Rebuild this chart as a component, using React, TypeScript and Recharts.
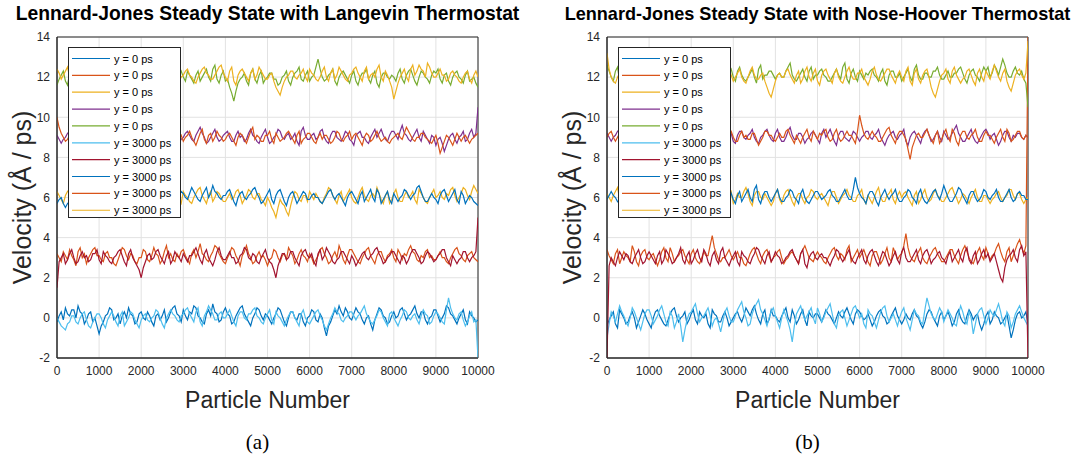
import React from 'react';
import { LineChart, Line, XAxis, YAxis, CartesianGrid, Legend, ReferenceArea, Label } from 'recharts';

const FONT = '"Liberation Sans", Arial, Helvetica, sans-serif';
const SERIF = '"Liberation Serif", "Times New Roman", serif';
const TEXT = '#262626';

const PARTICLE_STEP = 50;
const X_TICKS = [0, 1000, 2000, 3000, 4000, 5000, 6000, 7000, 8000, 9000, 10000];
const Y_TICKS = [-2, 0, 2, 4, 6, 8, 10, 12, 14];
const SERIES_NAMES = ['y = 0 ps', 'y = 0 ps', 'y = 0 ps', 'y = 0 ps', 'y = 0 ps',
  'y = 3000 ps', 'y = 3000 ps', 'y = 3000 ps', 'y = 3000 ps', 'y = 3000 ps'];
const SERIES_COLORS = ['#0072BD', '#D95319', '#EDB120', '#7E2F8E', '#77AC30',
  '#4DBEEE', '#A2142F', '#0072BD', '#D95319', '#EDB120'];

// ---------- (a) Langevin thermostat ----------
const LA_Y0_BLUE = [
  -0.2, 0.1, 0.3, -0.1, 0.5, 0.2, 0.1, 0.4, 0.4, 0.0, 0.6, 0.3, 0.2, -0.3, -0.1, 0.2, 0.3, -0.2, 0.0, -0.4,
  -0.8, -0.4, -0.2, 0.1, 0.2, 0.5, 0.4, -0.1, 0.0, 0.2, -0.3, 0.1, 0.3, 0.0, 0.5, 0.2, 0.1, -0.3, -0.2, 0.2,
  0.3, 0.0, -0.1, 0.3, 0.1, -0.2, -0.4, 0.1, 0.2, -0.1, 0.1, 0.4, -0.2, 0.0, 0.3, 0.5, 0.6, 0.2, 0.1, -0.2,
  0.4, 0.1, -0.1, 0.3, 0.2, 0.6, 0.5, 0.1, 0.0, -0.2, -0.3, 0.2, 0.4, 0.1, 0.7, 0.3, 0.2, -0.2, -0.1, 0.3,
  0.5, 0.2, 0.1, -0.3, -0.2, 0.1, 0.3, 0.5, 0.6, 0.2, 0.0, -0.2, -0.4, 0.0, 0.2, 0.5, 0.4, 0.1, -0.1, 0.2,
  0.1, -0.1, -0.3, 0.0, 0.2, 0.5, 0.4, 0.1, -0.2, -0.4, 0.0, 0.3, 0.3, 0.0, -0.1, 0.2, 0.2, -0.2, -0.4, 0.0,
  0.1, 0.4, 0.3, -0.1, -0.2, 0.2, 0.0, -0.5, -0.9, -0.4, -0.2, 0.1, 0.4, 0.2, 0.6, 0.3, 0.1, 0.5, 0.3, 0.0,
  -0.1, 0.2, 0.5, 0.3, 0.2, -0.1, -0.3, 0.0, 0.1, -0.3, -0.6, -0.1, 0.2, 0.5, 0.4, 0.1, 0.0, -0.3, -0.2, 0.1,
  0.3, 0.0, 0.1, 0.4, 0.5, 0.2, -0.1, 0.1, 0.2, 0.4, 0.6, 0.2, 0.0, 0.3, 0.3, -0.1, -0.3, 0.0, 0.1, 0.4,
  0.4, 0.1, -0.2, 0.0, 0.2, 0.6, 0.5, 0.2, 0.1, -0.1, -0.3, 0.0, 0.2, 0.4, -0.1, -0.3, 0.3, 0.1, 0.0, -0.2,
  -0.1,
];
const LA_Y0_ORANGE = [
  3.2, 3.0, 2.8, 3.3, 3.1, 2.9, 3.4, 3.1, 2.9, 2.6, 3.3, 3.5, 3.0, 3.2, 2.7, 3.0, 3.2, 3.4, 3.5, 3.1,
  3.1, 2.9, 2.8, 3.2, 3.3, 3.0, 3.0, 2.7, 2.6, 2.9, 3.2, 3.5, 3.4, 3.1, 2.9, 3.2, 3.1, 2.8, 2.7, 3.0,
  3.0, 3.4, 3.3, 2.9, 2.8, 3.1, 3.5, 3.2, 3.1, 2.7, 2.9, 3.3, 3.6, 3.0, 3.2, 2.9, 2.8, 3.2, 3.0, 3.3,
  3.4, 3.1, 2.9, 2.7, 3.2, 3.4, 3.0, 3.3, 3.7, 3.2, 3.1, 2.9, 2.8, 3.1, 3.3, 3.6, 3.5, 3.2, 3.0, 2.8,
  2.7, 3.0, 3.2, 3.5, 3.4, 3.1, 2.9, 2.6, 3.1, 3.3, 3.6, 3.2, 3.0, 2.7, 2.8, 3.1, 3.3, 3.0, 3.1, 2.9,
  2.6, 2.9, 3.0, 3.4, 3.3, 3.0, 2.8, 3.1, 3.2, 2.9, 3.5, 3.3, 3.1, 2.7, 2.9, 3.2, 3.4, 3.1, 3.0, 2.8,
  3.2, 3.0, 2.7, 2.9, 3.1, 3.4, 3.5, 3.2, 3.0, 2.7, 2.8, 3.1, 3.3, 3.0, 3.6, 3.3, 2.9, 2.7, 3.1, 3.4,
  3.4, 3.2, 3.0, 2.8, 2.7, 3.0, 3.2, 3.4, 3.5, 3.1, 2.9, 2.7, 3.1, 3.3, 3.3, 3.0, 2.8, 3.1, 3.2, 3.4,
  3.0, 2.8, 3.4, 3.2, 2.9, 3.2, 3.1, 3.4, 3.6, 3.3, 3.2, 2.9, 2.8, 3.1, 3.0, 3.3, 3.4, 3.0, 3.1, 2.9,
  2.9, 3.1, 3.3, 3.0, 3.0, 2.8, 2.7, 3.0, 3.2, 3.4, 3.5, 3.2, 3.1, 2.9, 2.8, 3.1, 3.2, 3.3, 3.0, 2.9,
  2.8,
];
const LA_Y0_YELLOW = [
  6.3, 6.1, 5.9, 5.7, 6.1, 6.3, 6.4, 6.0, 5.8, 6.1, 6.2, 5.9, 6.0, 6.3, 5.7, 5.9, 6.3, 6.5, 6.1, 5.8,
  5.8, 6.0, 6.2, 6.5, 6.4, 6.1, 5.9, 6.2, 6.1, 5.8, 5.6, 5.9, 6.0, 6.2, 6.3, 6.0, 5.8, 5.7, 6.2, 6.4,
  6.0, 5.8, 5.7, 6.0, 6.3, 6.2, 6.1, 5.8, 5.9, 6.2, 6.4, 6.1, 6.0, 5.7, 5.8, 6.0, 6.2, 6.4, 5.9, 5.7,
  6.3, 6.1, 6.0, 5.8, 5.7, 6.0, 6.2, 6.4, 6.5, 6.1, 5.9, 5.7, 6.1, 6.3, 5.8, 6.0, 6.3, 6.2, 6.0, 5.8,
  5.8, 6.0, 6.2, 5.9, 6.0, 6.3, 6.4, 6.1, 5.7, 5.9, 6.1, 6.4, 6.3, 6.0, 5.9, 6.2, 6.2, 5.9, 5.8, 5.6,
  6.0, 5.8, 5.5, 5.3, 5.0, 5.5, 5.9, 5.7, 5.6, 5.3, 5.1, 5.6, 6.0, 6.3, 6.2, 5.9, 5.8, 6.1, 6.1, 5.8,
  6.3, 6.1, 5.9, 6.2, 6.0, 5.8, 5.7, 6.0, 6.2, 6.5, 6.4, 6.1, 5.9, 5.7, 6.1, 6.3, 5.8, 6.0, 6.2, 6.4,
  6.0, 5.8, 5.7, 6.0, 6.3, 6.5, 6.1, 5.9, 5.8, 6.1, 6.2, 6.0, 6.5, 6.2, 5.9, 5.7, 6.1, 6.3, 5.7, 5.9,
  6.2, 6.4, 6.0, 5.8, 5.8, 6.1, 6.3, 6.0, 6.1, 6.3, 5.9, 5.7, 6.4, 6.2, 6.0, 5.8, 5.7, 6.0, 6.2, 6.4,
  6.0, 6.1, 6.3, 6.0, 5.9, 6.2, 6.1, 6.4, 6.5, 6.1, 5.8, 6.0, 6.2, 6.5, 6.4, 6.1, 5.9, 6.3, 6.6, 6.4,
  6.2,
];
const LA_Y0_PURPLE = [
  9.1, 8.9, 8.7, 8.9, 9.0, 9.2, 9.3, 9.0, 8.9, 8.7, 9.2, 9.4, 8.8, 8.6, 9.1, 9.3, 9.4, 9.1, 9.0, 8.8,
  8.8, 9.0, 9.2, 9.4, 9.0, 8.8, 8.7, 9.0, 9.3, 9.5, 9.1, 8.9, 8.9, 9.1, 9.2, 9.0, 8.8, 8.6, 9.0, 9.3,
  9.3, 9.1, 8.9, 8.7, 9.1, 9.3, 8.8, 9.0, 9.2, 9.4, 9.0, 8.8, 9.4, 9.2, 8.9, 8.7, 9.1, 9.0, 8.7, 8.9,
  9.0, 9.2, 9.3, 9.1, 8.9, 8.8, 9.1, 9.3, 9.5, 9.2, 9.0, 8.7, 8.8, 9.0, 9.2, 9.4, 9.0, 8.8, 8.9, 9.1,
  9.2, 9.3, 9.0, 8.8, 8.8, 9.1, 9.3, 9.0, 9.1, 8.8, 8.9, 9.2, 9.4, 9.1, 9.0, 8.8, 8.7, 9.0, 9.2, 9.4,
  9.0, 8.7, 8.8, 9.0, 9.1, 9.4, 9.3, 9.0, 8.9, 9.1, 9.2, 8.9, 9.0, 9.2, 8.8, 8.6, 9.3, 9.5, 9.1, 8.9,
  8.9, 9.1, 9.2, 8.9, 9.0, 9.3, 9.4, 9.0, 8.8, 8.7, 9.1, 9.3, 9.3, 9.0, 8.9, 8.8, 9.0, 9.3, 9.2, 8.9,
  8.8, 8.6, 9.1, 9.2, 9.3, 9.0, 9.0, 8.8, 8.7, 9.0, 9.2, 9.4, 9.0, 9.2, 9.4, 9.1, 8.9, 8.8, 9.1, 9.3,
  9.3, 9.1, 8.9, 9.3, 9.6, 9.2, 9.1, 8.9, 8.8, 9.0, 9.2, 9.4, 9.0, 8.8, 9.3, 9.1, 8.9, 8.7, 9.1, 9.0,
  8.6, 8.9, 9.0, 8.7, 8.3, 8.6, 8.9, 9.1, 9.2, 8.9, 8.7, 9.0, 9.1, 9.3, 8.8, 8.9, 9.2, 9.4, 9.0, 9.2,
  10.5,
];
const LA_Y0_GREEN = [
  11.6, 11.9, 12.1, 12.3, 11.8, 11.6, 12.2, 12.4, 11.9, 12.1, 12.3, 12.0, 12.0, 11.7, 11.7, 12.0, 12.2, 12.4, 11.9, 11.7,
  12.1, 12.3, 11.8, 11.6, 12.0, 12.2, 12.3, 12.1, 11.9, 11.7, 12.2, 12.4, 11.7, 11.9, 12.0, 12.3, 12.1, 11.9, 11.8, 12.0,
  12.2, 12.4, 12.0, 11.8, 11.9, 12.1, 12.3, 12.5, 12.1, 11.9, 11.8, 11.6, 12.2, 12.4, 12.0, 11.8, 11.7, 11.9, 12.1, 12.3,
  12.0, 11.8, 12.3, 12.1, 11.9, 11.7, 12.1, 12.3, 11.8, 12.0, 12.2, 12.4, 12.0, 11.8, 12.4, 12.6, 11.9, 11.7, 12.1, 12.3,
  11.8, 11.9, 11.5, 11.2, 10.8, 11.3, 11.7, 11.9, 12.0, 12.2, 11.8, 11.6, 12.2, 12.4, 11.9, 11.7, 12.1, 12.3, 11.7, 11.9,
  12.0, 12.2, 12.2, 11.9, 11.9, 11.6, 11.7, 12.0, 12.1, 12.3, 11.8, 11.6, 12.0, 12.2, 12.3, 12.5, 11.9, 11.8, 12.1, 12.3,
  11.8, 12.0, 12.1, 12.5, 12.9, 12.4, 12.0, 11.8, 11.9, 12.1, 12.2, 12.4, 11.8, 11.6, 12.0, 12.2, 12.3, 12.1, 11.9, 11.7,
  12.1, 12.3, 11.8, 11.6, 12.0, 12.2, 12.2, 12.4, 11.9, 11.7, 12.1, 12.3, 11.7, 11.5, 12.0, 12.2, 12.2, 12.0, 11.9, 12.1,
  12.0, 11.8, 12.2, 12.4, 11.9, 11.7, 12.1, 12.3, 12.4, 12.1, 11.8, 11.6, 12.0, 12.3, 12.2, 12.0, 11.9, 11.7, 12.1, 12.3,
  12.2, 12.4, 11.9, 11.7, 12.1, 12.2, 11.8, 11.6, 12.0, 12.2, 12.3, 12.0, 11.9, 11.7, 12.1, 12.3, 11.8, 11.9, 12.0, 11.7,
  11.5,
];
const LA_Y3000_LIGHTBLUE = [
  0.0, -0.2, -0.4, -0.5, -0.6, -0.3, -0.2, 0.1, 0.1, -0.2, -0.3, 0.0, 0.2, 0.3, -0.1, -0.4, -0.5, -0.2, 0.0, 0.2,
  0.2, 0.0, -0.3, -0.5, -0.1, 0.1, 0.3, 0.1, -0.2, -0.4, 0.1, 0.3, -0.4, -0.2, 0.0, 0.3, 0.2, -0.1, -0.3, -0.5,
  -0.1, 0.1, 0.2, -0.1, -0.2, 0.0, 0.1, 0.4, 0.3, 0.0, -0.3, -0.5, 0.0, 0.2, 0.4, 0.2, 0.1, -0.1, -0.2, 0.1,
  0.2, 0.4, 0.5, 0.2, 0.0, -0.2, 0.3, 0.5, -0.2, -0.4, 0.1, 0.3, 0.6, 0.4, 0.2, -0.1, -0.1, 0.2, 0.3, 0.0,
  0.0, 0.2, 0.4, 0.1, -0.2, -0.4, 0.1, 0.3, 0.3, 0.0, -0.1, 0.2, 0.2, 0.4, 0.5, 0.1, 0.0, -0.2, -0.3, 0.0,
  0.2, 0.4, -0.1, -0.3, 0.3, 0.1, 0.0, -0.2, -0.4, -0.1, 0.1, 0.3, 0.3, 0.0, -0.2, -0.4, 0.2, 0.4, 0.0, -0.2,
  -0.3, -0.1, 0.1, 0.3, 0.4, 0.1, -0.1, -0.4, -0.6, -0.3, 0.0, 0.2, 0.5, 0.3, 0.2, -0.1, -0.2, 0.0, 0.1, 0.3,
  0.3, 0.1, -0.1, 0.1, 0.2, 0.4, 0.6, 0.2, 0.0, -0.2, -0.3, -0.1, 0.1, 0.4, 0.3, 0.0, -0.2, -0.4, 0.2, 0.3,
  0.0, -0.2, -0.4, -0.1, 0.1, 0.4, 0.3, 0.0, -0.1, 0.1, 0.2, -0.1, -0.3, 0.1, 0.4, 0.2, 0.1, -0.3, -0.2, 0.1,
  0.3, 0.2, 0.0, -0.2, -0.3, 0.4, 1.0, 0.5, 0.2, 0.0, -0.1, 0.2, 0.3, -0.1, -0.4, -0.2, 0.1, 0.3, -0.2, -0.1,
  -2.0,
];
const LA_Y3000_DARKRED = [
  1.5, 2.8, 3.0, 3.2, 2.7, 2.9, 3.2, 3.4, 3.0, 2.7, 2.8, 3.1, 3.3, 3.0, 3.1, 2.8, 2.9, 3.2, 3.2, 3.4,
  2.9, 2.7, 3.3, 3.1, 3.0, 2.8, 2.7, 3.0, 3.1, 3.3, 3.4, 3.1, 2.8, 2.6, 3.2, 3.4, 3.0, 2.8, 2.6, 2.4,
  2.0, 2.5, 2.8, 3.1, 3.2, 2.9, 3.0, 3.3, 3.4, 3.1, 2.9, 2.7, 3.1, 3.3, 2.7, 2.9, 3.3, 3.1, 3.0, 2.8,
  3.2, 3.0, 2.8, 3.1, 3.1, 3.3, 3.5, 3.2, 2.9, 2.7, 3.2, 3.4, 3.0, 2.8, 2.6, 2.9, 3.3, 3.5, 3.1, 2.9,
  2.9, 3.1, 3.3, 3.0, 3.0, 2.7, 2.8, 3.1, 3.2, 3.5, 3.4, 3.0, 2.9, 3.2, 3.1, 2.8, 2.7, 3.0, 3.2, 3.4,
  3.0, 2.8, 2.7, 2.4, 2.0, 2.6, 2.9, 3.2, 3.2, 2.9, 3.0, 3.3, 3.3, 3.0, 2.8, 2.6, 3.1, 3.3, 3.4, 3.1,
  3.0, 3.2, 2.8, 2.6, 3.2, 3.4, 2.9, 3.1, 3.5, 3.3, 3.1, 2.8, 2.7, 2.9, 3.0, 3.3, 3.3, 3.1, 2.9, 2.7,
  3.1, 2.9, 2.6, 2.8, 3.0, 3.2, 3.3, 3.0, 2.9, 3.1, 3.2, 3.4, 3.5, 3.2, 3.0, 2.7, 2.8, 3.0, 3.1, 3.3,
  3.3, 3.1, 2.9, 2.7, 3.1, 3.0, 2.7, 2.9, 3.2, 3.4, 3.4, 3.2, 3.0, 2.7, 2.8, 3.1, 3.3, 3.2, 3.0, 2.8,
  2.9, 3.1, 3.2, 3.4, 3.4, 3.0, 2.8, 2.6, 3.1, 2.9, 2.7, 2.9, 3.0, 3.3, 3.3, 3.0, 2.8, 3.0, 3.1, 3.3,
  5.0,
];
const LA_Y3000_BLUE = [
  5.7, 5.9, 6.0, 5.7, 5.5, 5.7, 5.8, 6.1, 6.2, 6.0, 5.9, 5.7, 6.1, 6.3, 5.6, 5.8, 5.9, 6.1, 6.3, 6.0,
  6.0, 5.8, 5.7, 5.9, 6.1, 6.3, 5.8, 5.6, 6.2, 6.4, 6.0, 5.8, 5.6, 5.8, 5.9, 6.2, 6.3, 6.1, 6.0, 5.7,
  5.8, 6.0, 6.1, 6.3, 6.4, 6.1, 5.9, 5.7, 6.2, 6.0, 5.7, 5.9, 6.0, 6.2, 6.3, 6.0, 5.8, 6.0, 6.1, 6.3,
  6.2, 6.0, 5.9, 6.2, 6.5, 6.3, 6.1, 5.9, 5.8, 6.1, 6.3, 6.5, 6.0, 6.2, 6.6, 6.3, 6.2, 6.0, 5.9, 6.1,
  6.1, 6.3, 6.4, 6.1, 5.8, 5.6, 6.0, 6.2, 6.3, 6.0, 5.9, 6.1, 6.2, 6.4, 6.5, 6.2, 6.0, 5.7, 5.8, 6.0,
  6.2, 6.4, 5.9, 5.7, 6.1, 6.3, 6.4, 6.1, 5.8, 5.6, 6.0, 6.2, 6.3, 6.0, 5.7, 5.9, 6.1, 6.3, 6.2, 5.9,
  5.9, 6.1, 6.2, 6.0, 6.0, 5.8, 5.7, 5.9, 6.1, 6.3, 6.4, 6.1, 5.9, 6.1, 6.2, 6.0, 5.8, 5.6, 6.0, 6.2,
  6.3, 6.1, 5.9, 5.7, 6.1, 6.3, 5.8, 6.0, 6.2, 6.4, 6.0, 5.8, 6.4, 6.2, 5.7, 5.9, 6.1, 6.3, 5.9, 5.7,
  6.2, 6.0, 5.8, 6.0, 6.1, 6.4, 6.3, 6.1, 5.9, 6.1, 6.2, 6.5, 6.6, 6.3, 6.0, 5.8, 5.8, 6.0, 6.2, 6.0,
  5.9, 5.7, 6.1, 6.3, 6.4, 6.1, 5.8, 6.0, 6.2, 6.4, 5.9, 5.7, 6.3, 6.1, 5.7, 5.9, 6.1, 6.0, 5.8, 5.7,
  5.6,
];
const LA_Y3000_ORANGE = [
  10.0, 9.5, 9.2, 9.0, 8.8, 8.9, 9.1, 9.3, 8.9, 8.7, 9.3, 9.1, 9.0, 8.8, 8.7, 9.0, 9.2, 9.4, 8.9, 9.1,
  9.1, 8.9, 8.8, 9.0, 9.3, 9.5, 9.0, 8.8, 8.9, 9.1, 9.2, 9.0, 8.7, 8.5, 9.1, 9.3, 9.0, 8.8, 8.8, 9.0,
  9.2, 9.4, 9.0, 8.8, 8.7, 8.9, 9.1, 9.2, 8.9, 8.7, 9.3, 9.1, 8.8, 8.6, 9.0, 9.3, 9.2, 9.0, 8.9, 9.1,
  8.8, 9.0, 9.1, 9.3, 9.0, 8.8, 8.6, 8.9, 9.2, 9.4, 8.9, 8.7, 9.1, 9.2, 8.8, 9.0, 9.3, 9.1, 9.0, 8.8,
  8.9, 9.1, 9.2, 9.0, 8.8, 8.6, 9.0, 9.2, 9.1, 8.9, 8.7, 9.0, 9.3, 9.5, 8.9, 9.1, 9.0, 8.8, 8.8, 9.1,
  9.1, 9.3, 8.9, 8.7, 9.2, 9.0, 8.8, 8.9, 9.0, 9.2, 9.3, 9.1, 8.9, 8.7, 9.1, 9.3, 8.7, 8.9, 9.0, 9.2,
  9.2, 9.0, 8.8, 8.7, 9.0, 9.2, 8.9, 9.1, 9.1, 8.9, 8.7, 8.8, 9.0, 9.3, 9.2, 8.9, 8.8, 9.0, 9.1, 9.3,
  8.9, 9.1, 9.2, 9.0, 8.8, 8.6, 9.0, 9.2, 9.1, 8.8, 8.9, 9.1, 9.3, 9.0, 8.8, 8.9, 9.0, 8.8, 8.7, 8.9,
  9.0, 9.1, 9.2, 9.0, 8.9, 9.2, 9.5, 9.3, 9.1, 8.9, 8.8, 9.0, 9.0, 9.2, 9.2, 9.0, 8.9, 8.8, 8.7, 8.9,
  9.1, 8.7, 8.2, 8.5, 8.8, 9.1, 9.0, 8.8, 8.6, 8.9, 9.2, 9.0, 8.8, 9.0, 9.1, 8.9, 8.7, 8.9, 9.0, 9.1,
  9.2,
];
const LA_Y3000_YELLOW = [
  12.4, 12.2, 11.9, 12.1, 12.3, 12.5, 12.0, 11.8, 12.5, 12.3, 12.1, 11.9, 11.8, 12.0, 12.3, 12.5, 12.0, 11.7, 12.4, 12.6,
  12.2, 12.0, 12.5, 12.3, 12.0, 11.8, 12.3, 12.5, 11.9, 11.7, 12.2, 12.4, 12.6, 12.3, 12.1, 11.9, 11.8, 12.0, 12.2, 12.5,
  12.9, 12.6, 12.3, 12.1, 12.0, 12.2, 12.4, 12.1, 11.9, 11.7, 12.2, 12.4, 12.5, 12.2, 12.0, 11.8, 12.3, 12.5, 11.8, 12.0,
  12.1, 12.3, 12.4, 12.1, 12.0, 11.8, 11.7, 12.0, 12.2, 12.4, 12.5, 12.2, 12.1, 11.9, 11.9, 12.1, 12.3, 12.5, 12.6, 12.2,
  12.0, 11.8, 12.3, 12.5, 11.8, 11.6, 12.1, 12.3, 12.4, 12.2, 12.0, 11.8, 12.2, 12.4, 11.9, 12.1, 12.5, 12.3, 12.1, 11.9,
  11.9, 12.1, 12.2, 11.8, 11.5, 11.3, 11.1, 11.5, 11.8, 12.0, 12.1, 12.3, 12.3, 12.0, 11.9, 12.1, 12.2, 12.4, 12.0, 11.8,
  12.4, 12.2, 12.1, 11.9, 11.8, 12.0, 12.3, 12.5, 12.0, 11.8, 12.2, 12.4, 11.9, 12.1, 12.5, 12.3, 12.1, 11.9, 11.8, 12.1,
  12.2, 12.4, 12.5, 12.2, 12.0, 11.8, 12.3, 12.5, 11.9, 12.1, 12.2, 12.0, 12.4, 12.6, 12.0, 11.8, 12.3, 12.1, 11.8, 11.5,
  10.9, 11.3, 11.7, 12.0, 12.2, 12.4, 12.0, 11.8, 12.4, 12.6, 12.1, 12.3, 12.6, 12.4, 12.3, 12.0, 12.7, 12.5, 12.2, 12.0,
  12.0, 12.2, 12.4, 12.1, 12.1, 11.8, 11.9, 12.2, 12.3, 12.1, 12.0, 11.8, 11.7, 12.0, 12.2, 12.3, 11.9, 11.7, 12.1, 12.3,
  12.0,
];

// ---------- (b) Nose-Hoover thermostat ----------
const NH_Y0_BLUE = [
  -0.4, -0.1, 0.1, 0.3, -0.3, -0.5, 0.4, 0.2, 0.0, -0.3, -0.2, 0.1, 0.3, 0.0, -0.5, -0.2, 0.1, 0.4, 0.2, -0.1,
  -0.3, -0.5, 0.0, 0.3, 0.4, 0.1, -0.1, -0.3, -0.4, -0.1, 0.2, 0.4, 0.5, 0.1, -0.2, 0.0, 0.1, 0.3, -0.3, -0.1,
  0.2, 0.4, -0.1, -0.3, 0.3, 0.1, 0.0, 0.2, -0.3, -0.5, 0.4, 0.2, 0.1, -0.2, -0.2, 0.1, 0.3, 0.0, -0.4, -0.2,
  0.0, 0.2, 0.3, 0.0, -0.2, 0.1, 0.5, 0.3, 0.1, 0.4, 0.6, 0.2, -0.1, -0.3, 0.2, 0.4, -0.3, -0.1, 0.4, 0.1,
  0.1, -0.1, -0.2, 0.1, 0.3, 0.5, 0.0, -0.2, 0.4, 0.1, -0.3, -0.1, 0.2, 0.4, -0.1, -0.4, 0.3, 0.1, 0.0, 0.2,
  0.2, 0.0, -0.2, 0.1, 0.4, 0.2, 0.1, -0.1, -0.3, 0.0, 0.3, 0.1, 0.0, 0.3, 0.5, 0.2, -0.1, -0.3, 0.2, 0.4,
  0.3, 0.1, -0.1, 0.0, 0.2, -0.1, -0.4, -0.2, 0.1, 0.3, 0.4, 0.1, 0.0, -0.3, -0.2, 0.1, 0.3, 0.5, 0.1, -0.1,
  -0.3, -0.1, 0.2, 0.0, -0.1, 0.2, 0.4, 0.1, 0.0, -0.3, -0.5, -0.2, 0.2, 0.4, 0.3, 0.0, -0.2, -0.4, 0.1, 0.3,
  -0.1, 0.1, 0.3, 0.0, -0.4, -0.2, 0.2, 0.4, 0.0, -0.2, -0.3, 0.1, 0.4, 0.2, -0.1, 0.1, 0.2, -0.3, -0.6, -0.3,
  0.1, 0.3, -0.3, -0.1, 0.3, 0.1, 0.0, -0.3, -0.2, 0.0, 0.2, -0.4, -1.0, -0.6, -0.1, 0.2, 0.3, 0.0, 0.1, 0.3,
  -0.3,
];
const NH_Y0_ORANGE = [
  3.4, 3.1, 2.9, 2.7, 3.2, 3.4, 2.7, 3.0, 3.3, 3.1, 3.0, 2.8, 3.6, 3.3, 2.8, 2.6, 3.1, 3.3, 3.4, 3.0,
  2.9, 3.1, 3.2, 2.9, 2.6, 2.9, 3.3, 3.5, 3.0, 2.8, 3.5, 3.2, 2.8, 3.0, 3.1, 3.3, 3.4, 3.1, 2.9, 2.7,
  3.2, 3.4, 3.0, 2.8, 2.7, 3.0, 3.3, 3.1, 3.1, 3.6, 4.1, 3.5, 3.2, 2.9, 2.8, 3.0, 3.0, 3.2, 3.4, 3.1,
  2.9, 3.1, 3.3, 3.0, 3.0, 2.7, 2.6, 2.9, 3.2, 3.4, 3.5, 3.2, 2.9, 2.7, 3.1, 3.3, 3.4, 3.1, 2.8, 3.0,
  3.1, 3.3, 3.4, 3.0, 2.7, 2.9, 3.0, 3.2, 3.3, 3.1, 2.9, 2.7, 3.2, 3.4, 3.6, 3.3, 3.0, 2.9, 2.8, 3.1,
  3.3, 3.1, 3.0, 2.8, 2.7, 3.0, 3.2, 3.4, 3.5, 3.1, 2.9, 3.2, 3.1, 2.9, 3.4, 3.6, 2.8, 3.0, 3.2, 3.4,
  3.0, 3.2, 3.4, 3.1, 2.8, 2.6, 3.1, 3.3, 3.3, 3.0, 2.7, 2.9, 3.2, 3.5, 3.0, 2.8, 3.5, 3.2, 2.9, 3.1,
  3.2, 3.6, 4.2, 3.5, 3.1, 2.9, 2.8, 3.1, 3.3, 3.5, 3.0, 2.8, 2.7, 3.0, 3.2, 3.4, 3.5, 3.2, 3.0, 2.8,
  2.8, 3.0, 3.2, 3.4, 3.4, 3.1, 2.9, 2.7, 3.1, 3.4, 3.6, 3.3, 3.0, 2.8, 2.7, 3.0, 3.3, 3.5, 3.1, 2.9,
  3.5, 3.2, 2.9, 3.1, 3.2, 3.5, 3.7, 3.3, 3.0, 2.8, 3.3, 3.5, 2.8, 3.1, 3.4, 3.7, 3.9, 3.5, 3.2, 3.6,
  14.0,
];
const NH_Y0_YELLOW = [
  6.2, 6.0, 5.8, 6.1, 6.3, 6.5, 5.9, 5.7, 6.1, 5.8, 5.6, 5.9, 6.2, 6.4, 6.0, 5.8, 5.7, 6.0, 6.3, 6.1,
  5.9, 6.1, 6.2, 5.9, 5.8, 6.1, 6.4, 6.2, 6.0, 5.8, 5.7, 5.5, 6.1, 6.3, 6.3, 6.0, 5.8, 5.6, 6.0, 6.2,
  6.3, 6.1, 5.9, 6.2, 6.1, 5.8, 5.6, 5.9, 6.2, 6.4, 6.0, 5.7, 5.8, 6.1, 6.4, 6.2, 5.9, 5.7, 6.1, 6.3,
  5.7, 5.9, 6.2, 6.0, 6.0, 6.3, 6.5, 6.2, 5.8, 5.6, 6.1, 6.3, 6.3, 6.0, 5.9, 6.2, 6.0, 5.8, 5.6, 5.8,
  6.2, 6.4, 5.9, 5.7, 6.1, 6.3, 6.4, 6.1, 5.8, 5.6, 6.0, 6.2, 6.2, 5.9, 5.7, 6.0, 6.1, 6.4, 6.3, 6.0,
  5.9, 6.1, 6.2, 6.0, 5.8, 5.6, 6.0, 6.3, 6.3, 6.0, 5.7, 5.9, 6.1, 6.2, 6.4, 6.1, 6.0, 5.8, 5.8, 6.1,
  6.2, 6.4, 5.9, 5.7, 6.1, 5.9, 5.7, 6.0, 6.3, 6.5, 6.0, 5.8, 5.8, 6.1, 6.2, 6.4, 5.9, 5.7, 6.1, 6.3,
  6.0, 6.2, 6.3, 6.0, 5.8, 5.6, 6.1, 6.3, 5.7, 5.9, 6.2, 6.4, 6.0, 5.8, 5.9, 6.2, 6.4, 6.1, 6.0, 5.8,
  5.8, 6.0, 6.2, 6.4, 6.5, 6.2, 6.0, 5.7, 5.9, 6.2, 6.1, 5.9, 5.7, 6.0, 6.2, 6.4, 6.0, 5.8, 5.8, 6.1,
  6.1, 5.9, 5.7, 5.9, 6.0, 6.2, 6.3, 6.0, 5.8, 6.0, 6.1, 6.4, 6.4, 6.1, 5.9, 6.2, 6.2, 5.9, 5.7, 5.9,
  6.0,
];
const NH_Y0_PURPLE = [
  9.2, 9.0, 8.8, 9.0, 9.1, 9.3, 9.4, 9.1, 8.9, 8.7, 9.2, 9.4, 8.7, 8.9, 9.0, 9.2, 9.3, 9.1, 8.9, 9.1,
  9.1, 9.3, 9.4, 9.0, 8.8, 8.6, 9.0, 9.2, 9.3, 9.1, 8.9, 9.1, 9.2, 8.9, 8.6, 8.8, 9.1, 9.4, 9.3, 9.0,
  8.9, 9.1, 9.2, 8.9, 9.0, 8.7, 8.8, 9.1, 9.3, 9.5, 9.1, 8.9, 8.7, 9.0, 9.2, 9.4, 9.0, 8.8, 9.4, 9.2,
  8.8, 8.7, 9.1, 9.3, 9.3, 9.0, 8.9, 9.1, 9.2, 9.4, 9.0, 8.8, 8.7, 9.0, 9.1, 9.3, 9.4, 9.1, 8.9, 8.8,
  9.2, 9.4, 9.0, 8.8, 8.8, 9.0, 9.3, 9.5, 9.1, 8.9, 8.9, 9.2, 9.2, 9.0, 8.7, 8.9, 9.0, 9.2, 9.3, 9.1,
  8.9, 8.7, 9.2, 9.4, 9.0, 9.2, 9.4, 9.1, 8.8, 8.6, 9.1, 9.3, 9.3, 9.0, 8.9, 8.8, 9.0, 9.3, 9.2, 9.0,
  8.8, 9.0, 9.1, 9.3, 9.3, 9.0, 8.9, 9.1, 9.2, 9.4, 9.0, 8.8, 8.6, 8.9, 9.1, 9.2, 9.3, 9.0, 8.9, 9.1,
  9.2, 9.4, 8.8, 8.6, 9.0, 9.2, 9.3, 9.1, 8.9, 8.7, 9.1, 9.3, 9.4, 9.1, 8.8, 8.9, 9.1, 9.3, 9.0, 8.8,
  9.3, 9.1, 8.9, 9.0, 9.2, 9.4, 9.6, 9.2, 9.0, 8.8, 8.8, 9.0, 9.2, 9.4, 9.0, 8.8, 8.7, 8.9, 9.1, 9.3,
  9.4, 9.2, 8.9, 9.1, 9.2, 8.9, 8.6, 8.8, 9.1, 9.3, 9.3, 9.0, 8.8, 9.1, 9.0, 9.2, 9.2, 9.0, 8.9, 9.1,
  9.0,
];
const NH_Y0_GREEN = [
  12.6, 12.3, 12.0, 11.8, 12.3, 12.5, 11.8, 11.6, 12.2, 12.4, 12.0, 11.8, 11.7, 12.0, 12.1, 12.3, 12.4, 12.1, 11.9, 12.2,
  12.2, 12.4, 12.0, 11.7, 11.8, 12.1, 12.3, 12.5, 12.1, 11.9, 11.9, 12.2, 12.2, 12.4, 12.0, 11.8, 11.8, 12.0, 12.3, 12.5,
  12.1, 12.3, 11.9, 11.7, 12.2, 12.0, 12.4, 12.6, 12.0, 11.8, 11.8, 12.1, 12.1, 12.3, 12.3, 12.0, 11.9, 11.7, 12.2, 12.4,
  12.0, 11.8, 12.3, 12.5, 12.1, 11.9, 11.8, 12.0, 12.2, 12.4, 12.0, 11.7, 12.4, 12.6, 11.9, 12.1, 12.1, 12.3, 12.3, 12.1,
  11.9, 12.1, 12.2, 12.0, 12.0, 12.3, 12.5, 12.7, 12.1, 11.9, 11.8, 12.0, 12.2, 12.4, 12.0, 11.8, 12.3, 12.5, 11.9, 12.1,
  12.1, 12.3, 12.4, 12.1, 12.0, 11.8, 11.8, 12.0, 12.2, 12.4, 12.1, 11.9, 12.5, 12.7, 11.9, 11.7, 12.2, 12.4, 12.0, 11.8,
  12.3, 12.1, 11.9, 12.2, 12.1, 12.3, 12.4, 12.1, 12.0, 11.8, 12.2, 12.4, 11.8, 11.6, 12.1, 12.3, 12.3, 12.0, 12.0, 12.2,
  11.8, 12.0, 12.2, 12.4, 12.0, 11.8, 12.4, 12.6, 12.1, 11.9, 11.9, 12.2, 12.2, 12.0, 12.0, 12.3, 12.3, 12.5, 12.1, 11.9,
  11.9, 12.1, 12.3, 12.0, 12.0, 12.2, 12.2, 12.4, 12.5, 12.2, 11.9, 11.7, 12.1, 12.3, 12.4, 12.1, 12.0, 11.8, 12.2, 12.5,
  12.3, 12.5, 12.0, 12.2, 12.6, 12.4, 12.1, 12.5, 12.9, 12.6, 12.2, 12.0, 12.0, 12.3, 12.5, 12.2, 12.1, 12.3, 11.9, 11.7,
  10.5,
];
const NH_Y3000_LIGHTBLUE = [
  -1.0, -0.3, 0.3, 0.1, -0.2, 0.2, 0.6, 0.3, 0.1, -0.2, -0.4, 0.0, 0.5, 0.3, 0.0, -0.3, -0.6, -0.2, 0.2, 0.4,
  0.4, 0.1, -0.3, -0.1, 0.1, 0.4, 0.6, 0.2, -0.2, -0.4, 0.3, 0.1, -0.5, -0.2, 0.2, -0.4, -1.2, -0.6, -0.1, 0.2,
  0.3, 0.5, 0.7, 0.2, -0.2, 0.0, 0.1, 0.3, 0.5, 0.1, -0.4, -0.1, 0.0, -0.3, -0.7, -0.2, 0.3, 0.5, 0.1, -0.2,
  -0.2, 0.1, 0.4, 0.6, 0.8, 0.3, 0.0, -0.4, -0.3, 0.2, 0.5, 0.7, 0.9, 0.4, 0.2, -0.1, -0.4, 0.0, 0.3, 0.5,
  0.1, -0.2, -0.5, 0.0, 0.4, 0.1, -0.2, -0.6, -1.2, -0.4, 0.2, 0.4, 0.6, 0.2, -0.1, 0.1, 0.3, 0.5, 0.0, -0.3,
  0.5, 0.2, -0.2, 0.0, 0.3, 0.5, 0.7, 0.2, -0.3, -0.5, 0.1, 0.3, 0.4, 0.0, -0.4, -0.1, 0.2, 0.5, 0.6, 0.3,
  0.0, 0.2, -0.3, -0.5, 0.4, 0.2, 0.1, -0.2, -0.5, -0.1, 0.3, 0.5, 0.6, 0.1, -0.2, 0.0, 0.2, -0.1, -0.4, 0.0,
  0.3, 0.5, 0.0, -0.3, -0.6, -0.1, 0.4, 0.2, 0.1, -0.2, -0.3, 0.4, 1.0, 0.6, 0.2, 0.0, -0.1, 0.2, 0.5, 0.3,
  -0.2, 0.1, 0.4, 0.2, 0.0, -0.3, -0.4, 0.2, 0.6, 0.3, -0.1, -0.3, 0.3, 0.0, -0.8, -0.3, 0.2, 0.4, 0.5, 0.1,
  -0.3, 0.0, 0.4, 0.2, 0.1, 0.4, 0.7, 0.3, -0.2, -0.4, 0.3, 0.1, -0.5, -0.2, 0.2, 0.4, 0.6, 0.3, 0.0, -0.2,
  -0.4,
];
const NH_Y3000_DARKRED = [
  -2.0, 2.6, 3.0, 2.8, 2.6, 3.0, 3.3, 3.1, 2.9, 3.2, 3.1, 2.8, 2.7, 3.0, 3.2, 3.4, 3.0, 2.7, 2.8, 3.1,
  3.3, 3.1, 2.9, 2.7, 3.1, 3.3, 2.7, 2.9, 3.4, 3.2, 3.0, 2.7, 2.8, 3.0, 3.2, 3.5, 2.9, 2.7, 3.1, 3.3,
  2.7, 2.9, 3.2, 3.4, 3.0, 2.8, 3.4, 3.2, 2.8, 2.6, 3.1, 3.3, 2.9, 2.7, 3.3, 3.5, 3.0, 2.8, 2.6, 2.9,
  3.1, 3.3, 2.8, 2.6, 3.3, 3.1, 3.0, 2.8, 2.7, 3.0, 3.2, 3.5, 3.4, 3.1, 2.9, 2.7, 3.1, 3.3, 2.8, 3.0,
  3.3, 3.1, 3.0, 2.7, 2.8, 3.0, 3.1, 3.3, 3.4, 3.1, 2.9, 2.7, 3.2, 3.4, 2.7, 2.5, 3.0, 3.2, 3.3, 3.0,
  2.9, 3.1, 3.2, 3.0, 3.0, 2.8, 2.6, 2.9, 3.1, 3.4, 3.3, 3.0, 2.8, 3.0, 3.2, 3.4, 3.0, 2.8, 2.7, 3.0,
  3.2, 3.4, 2.9, 2.7, 3.1, 3.3, 3.4, 3.1, 2.8, 2.6, 3.0, 3.3, 3.2, 2.9, 2.6, 2.8, 3.1, 3.3, 2.9, 2.7,
  3.3, 3.5, 3.0, 2.8, 2.8, 3.0, 3.2, 3.4, 2.9, 2.7, 3.1, 3.3, 3.4, 3.1, 2.7, 2.9, 3.0, 3.2, 3.3, 3.0,
  2.9, 2.7, 3.1, 3.3, 2.8, 3.0, 3.2, 3.4, 3.0, 2.8, 3.3, 3.5, 2.9, 2.7, 3.1, 3.3, 2.7, 2.9, 3.2, 3.4,
  3.0, 3.2, 2.8, 3.0, 3.2, 2.8, 2.4, 2.0, 1.8, 2.5, 2.9, 3.1, 3.2, 3.4, 3.0, 2.8, 3.4, 3.6, 3.1, 3.3,
  -2.0,
];
const NH_Y3000_BLUE = [
  5.9, 6.1, 6.3, 6.1, 6.0, 5.8, 5.7, 5.9, 6.2, 6.5, 6.4, 6.1, 5.9, 5.7, 6.1, 6.3, 5.8, 6.0, 6.2, 6.4,
  6.0, 5.8, 5.6, 5.9, 6.1, 6.4, 6.3, 6.0, 5.9, 6.1, 6.2, 6.0, 5.8, 5.6, 6.0, 6.2, 6.4, 6.1, 5.9, 5.7,
  6.1, 6.3, 5.8, 5.6, 6.2, 6.4, 6.0, 5.8, 5.7, 6.0, 6.3, 6.1, 6.1, 5.8, 5.9, 6.1, 6.2, 6.4, 6.5, 6.2,
  5.9, 5.7, 6.1, 6.3, 5.8, 6.0, 6.2, 6.4, 6.0, 5.8, 6.4, 6.6, 5.9, 5.7, 6.1, 6.3, 6.3, 6.0, 5.8, 6.0,
  6.2, 6.4, 6.0, 5.8, 5.8, 6.0, 6.1, 6.4, 6.3, 6.0, 5.9, 5.7, 6.2, 6.4, 6.0, 5.8, 5.7, 5.9, 6.1, 6.3,
  6.3, 6.1, 5.9, 6.0, 6.1, 6.3, 6.4, 6.1, 6.0, 5.8, 5.8, 6.0, 6.2, 6.4, 6.1, 5.9, 5.9, 6.4, 7.0, 6.5,
  6.2, 6.0, 5.9, 5.7, 6.1, 6.3, 6.3, 6.1, 5.8, 5.6, 6.0, 6.2, 6.4, 6.1, 5.9, 6.1, 6.2, 6.4, 6.0, 5.8,
  5.8, 6.0, 6.1, 6.4, 6.3, 6.0, 5.9, 5.7, 6.2, 6.4, 6.0, 5.8, 5.7, 5.9, 6.1, 6.3, 6.4, 6.1, 5.9, 6.2,
  6.6, 6.3, 6.0, 5.8, 5.8, 6.0, 6.2, 6.5, 6.4, 6.1, 5.9, 5.7, 6.1, 6.3, 6.3, 6.0, 5.8, 5.9, 6.1, 6.4,
  6.3, 6.0, 5.9, 6.1, 6.2, 6.4, 6.0, 5.8, 5.8, 6.0, 6.2, 6.4, 6.0, 5.8, 5.9, 6.2, 6.3, 6.1, 6.1, 5.9,
  5.9,
];
const NH_Y3000_ORANGE = [
  9.0, 9.2, 9.3, 9.0, 8.8, 9.0, 9.2, 9.4, 9.0, 8.8, 8.7, 9.0, 9.3, 9.5, 9.1, 8.9, 8.8, 9.1, 9.2, 9.0,
  8.9, 8.7, 9.2, 9.4, 9.5, 9.2, 9.0, 8.8, 8.8, 9.1, 9.3, 9.1, 9.1, 8.9, 8.7, 9.0, 9.2, 9.4, 9.0, 8.8,
  9.3, 9.1, 8.9, 9.2, 9.1, 8.9, 8.7, 9.0, 9.2, 9.4, 9.4, 9.1, 8.9, 8.7, 9.1, 9.3, 8.8, 9.0, 9.2, 9.3,
  9.0, 8.8, 8.8, 9.1, 9.3, 9.0, 9.1, 8.9, 8.9, 9.2, 9.2, 8.9, 8.6, 8.8, 9.0, 9.3, 9.3, 9.1, 9.1, 8.9,
  8.8, 9.0, 9.2, 9.0, 9.0, 9.3, 9.4, 9.1, 8.9, 8.7, 9.1, 8.9, 8.7, 9.0, 9.2, 9.4, 9.0, 8.8, 9.3, 9.1,
  8.9, 9.2, 9.1, 9.3, 9.4, 9.0, 8.8, 8.9, 9.2, 9.4, 9.0, 8.8, 8.9, 9.1, 9.3, 9.1, 9.1, 8.9, 8.7, 9.3,
  10.1, 9.6, 9.2, 9.0, 8.9, 9.1, 9.3, 9.1, 9.0, 8.8, 8.8, 9.0, 9.2, 9.4, 9.5, 9.1, 8.9, 8.7, 9.1, 9.3,
  9.3, 9.1, 8.9, 8.4, 7.9, 8.5, 8.8, 9.1, 9.2, 9.0, 9.0, 9.2, 9.4, 9.1, 8.9, 8.7, 9.1, 9.3, 8.7, 8.9,
  9.2, 9.4, 9.0, 8.8, 9.4, 9.2, 8.8, 8.6, 9.1, 9.3, 9.3, 9.0, 8.9, 9.1, 9.2, 9.4, 9.0, 8.8, 8.8, 9.1,
  9.3, 9.1, 9.1, 8.9, 8.7, 9.0, 9.2, 9.4, 9.0, 8.8, 9.4, 9.2, 8.8, 8.9, 9.1, 9.3, 9.3, 9.0, 8.9, 9.1,
  9.0,
];
const NH_Y3000_YELLOW = [
  13.2, 12.4, 12.0, 11.8, 11.7, 12.0, 12.2, 12.5, 12.4, 12.1, 11.9, 11.7, 12.1, 12.3, 12.5, 12.2, 11.8, 11.6, 12.2, 12.4,
  12.0, 11.8, 12.4, 12.6, 11.8, 11.6, 12.1, 12.3, 12.3, 12.0, 11.7, 11.9, 12.2, 12.4, 12.0, 11.8, 12.5, 12.7, 11.9, 11.7,
  12.1, 12.4, 12.3, 12.0, 11.8, 12.0, 12.2, 12.4, 12.0, 11.8, 11.6, 11.9, 12.3, 12.5, 12.1, 11.9, 11.9, 12.2, 12.4, 12.1,
  11.8, 12.0, 12.2, 12.4, 12.0, 11.8, 11.7, 12.0, 12.3, 12.5, 12.1, 11.9, 11.9, 12.1, 12.2, 11.8, 11.5, 11.2, 11.0, 11.4,
  11.8, 12.1, 12.2, 12.0, 12.0, 12.3, 12.4, 12.1, 11.9, 11.7, 12.1, 12.3, 11.7, 11.9, 12.3, 12.5, 12.0, 11.8, 12.2, 12.4,
  11.8, 11.6, 12.1, 12.3, 12.4, 12.1, 11.9, 11.7, 12.2, 12.4, 12.0, 11.8, 11.7, 12.0, 12.3, 12.5, 12.1, 11.9, 11.9, 12.2,
  12.2, 12.4, 12.0, 11.8, 11.6, 11.9, 12.3, 12.5, 12.1, 11.9, 11.8, 12.0, 12.2, 12.4, 12.4, 12.1, 11.9, 11.7, 12.1, 12.3,
  12.0, 11.8, 12.3, 12.5, 11.8, 11.6, 12.2, 12.4, 11.9, 11.7, 12.1, 12.3, 12.4, 12.0, 11.5, 11.2, 11.0, 11.4, 11.8, 12.1,
  12.2, 12.4, 11.9, 11.7, 12.3, 12.5, 12.1, 11.9, 11.7, 11.9, 12.0, 12.3, 12.4, 12.1, 11.8, 11.6, 12.2, 12.4, 12.0, 11.8,
  12.3, 12.1, 11.9, 12.3, 12.6, 12.3, 12.0, 11.8, 12.2, 12.4, 11.8, 11.5, 11.3, 11.7, 12.1, 12.3, 12.4, 12.1, 11.9, 12.2,
  13.8,
];

const LANGEVIN_SERIES = [LA_Y0_BLUE, LA_Y0_ORANGE, LA_Y0_YELLOW, LA_Y0_PURPLE, LA_Y0_GREEN,
  LA_Y3000_LIGHTBLUE, LA_Y3000_DARKRED, LA_Y3000_BLUE, LA_Y3000_ORANGE, LA_Y3000_YELLOW];
const NOSE_HOOVER_SERIES = [NH_Y0_BLUE, NH_Y0_ORANGE, NH_Y0_YELLOW, NH_Y0_PURPLE, NH_Y0_GREEN,
  NH_Y3000_LIGHTBLUE, NH_Y3000_DARKRED, NH_Y3000_BLUE, NH_Y3000_ORANGE, NH_Y3000_YELLOW];

function buildRows(series: number[][]) {
  const n = Math.max(...series.map((s) => s.length));
  const rows: Record<string, number>[] = [];
  for (let i = 0; i < n; i++) {
    const row: Record<string, number> = { particle: i * PARTICLE_STEP };
    series.forEach((s, k) => {
      row['s' + k] = s[i];
    });
    rows.push(row);
  }
  return rows;
}

const LegendBox = () => (
  <svg width={113} height={171} style={{ display: 'block' }}>
    <rect x={0.5} y={0.5} width={112} height={170} fill="#ffffff" stroke={TEXT} strokeWidth={1} />
    {SERIES_NAMES.map((name, i) => {
      const cy = 11.5 + i * 16.86;
      return (
        <g key={i}>
          <line x1={4} x2={42} y1={cy} y2={cy} stroke={SERIES_COLORS[i]} strokeWidth={1.2} />
          <text x={46} y={cy} dominantBaseline="central" fontSize={11} fill="#000" fontFamily={FONT}>
            {name}
          </text>
        </g>
      );
    })}
  </svg>
);

const YLabelContent = (props: any) => {
  const vb = props.viewBox || {};
  const cx = 22;
  const cy = (vb.y ?? 37) + (vb.height ?? 321) / 2;
  return (
    <text x={cx} y={cy} transform={`rotate(-90, ${cx}, ${cy})`} textAnchor="middle"
      dominantBaseline="central" fontSize={25} fill={TEXT} fontFamily={FONT}>
      Velocity (Å / ps)
    </text>
  );
};

const XLabelContent = (props: any) => {
  const vb = props.viewBox || {};
  const cx = (vb.x ?? 57) + (vb.width ?? 421) / 2;
  const y = (vb.y ?? 358) + 50;
  return (
    <text x={cx} y={y} textAnchor="middle" fontSize={23} fill={TEXT} fontFamily={FONT}>
      Particle Number
    </text>
  );
};

const PLOT_TOP = 37;
const PLOT_BOTTOM = 358;
const PLOT_LEFT = 57;
const PLOT_RIGHT = 478;
const CHART_H = 459;
const X_AXIS_H = 25;

function Panel({ title, titleSize, tag, series, left, width }: { title: string; titleSize: number; tag: string; series: number[][]; left: number; width: number }) {
  const rows = buildRows(series);
  const center = (PLOT_LEFT + PLOT_RIGHT) / 2;
  return (
    <div style={{ position: 'absolute', left, top: 0, width, height: CHART_H }}>
      <LineChart
        width={width}
        height={CHART_H}
        data={rows}
        margin={{ top: PLOT_TOP, right: width - PLOT_RIGHT, bottom: CHART_H - PLOT_BOTTOM - X_AXIS_H, left: 0 }}
      >
        <CartesianGrid stroke="#e2e2e2" strokeWidth={1} />
        <XAxis
          dataKey="particle"
          type="number"
          domain={[0, 10000]}
          ticks={X_TICKS}
          interval={0}
          allowDataOverflow
          tickLine={false}
          axisLine={{ stroke: TEXT }}
          tick={{ fill: TEXT, fontSize: 12, fontFamily: FONT }}
          height={X_AXIS_H}
        >
          <Label content={XLabelContent} />
        </XAxis>
        <YAxis
          type="number"
          domain={[-2, 14]}
          ticks={Y_TICKS}
          interval={0}
          allowDataOverflow
          tickLine={false}
          tickMargin={1}
          axisLine={{ stroke: TEXT }}
          tick={{ fill: TEXT, fontSize: 12, fontFamily: FONT }}
          width={PLOT_LEFT}
        >
          <Label content={YLabelContent} />
        </YAxis>
        {series.map((_, k) => (
          <Line
            key={k}
            type="linear"
            dataKey={'s' + k}
            name={SERIES_NAMES[k]}
            stroke={SERIES_COLORS[k]}
            strokeWidth={1.2}
            dot={false}
            activeDot={false}
            isAnimationActive={false}
          />
        ))}
        <ReferenceArea x1={0} x2={10000} y1={-2} y2={14} fill="none" stroke={TEXT} strokeWidth={1} ifOverflow="visible" />
        <Legend
          layout="vertical"
          align="center"
          verticalAlign="middle"
          wrapperStyle={{ left: 68, top: 47, width: 113, height: 171 }}
          content={() => <LegendBox />}
        />
      </LineChart>
      <div
        style={{
          position: 'absolute', left: center - 300, width: 600, top: 4, lineHeight: '20px',
          textAlign: 'center', fontFamily: FONT, fontWeight: 'bold', fontSize: titleSize, color: '#000',
          whiteSpace: 'nowrap',
        }}
      >
        {title}
      </div>
      <div
        style={{
          position: 'absolute', left: center - 10 - 50, width: 100, top: 430, lineHeight: '24px',
          textAlign: 'center', fontFamily: SERIF, fontSize: 21, color: '#000',
        }}
      >
        {tag}
      </div>
    </div>
  );
}

export default function App() {
  return (
    <div style={{ position: 'absolute', left: 0, top: 0, width: 1073, height: 459, background: '#fff', overflow: 'hidden' }}>
      <Panel title="Lennard-Jones Steady State with Langevin Thermostat" titleSize={19.3} tag="(a)" series={LANGEVIN_SERIES} left={0} width={540} />
      <Panel title="Lennard-Jones Steady State with Nose-Hoover Thermostat" titleSize={18.1} tag="(b)" series={NOSE_HOOVER_SERIES} left={550} width={523} />
    </div>
  );
}
